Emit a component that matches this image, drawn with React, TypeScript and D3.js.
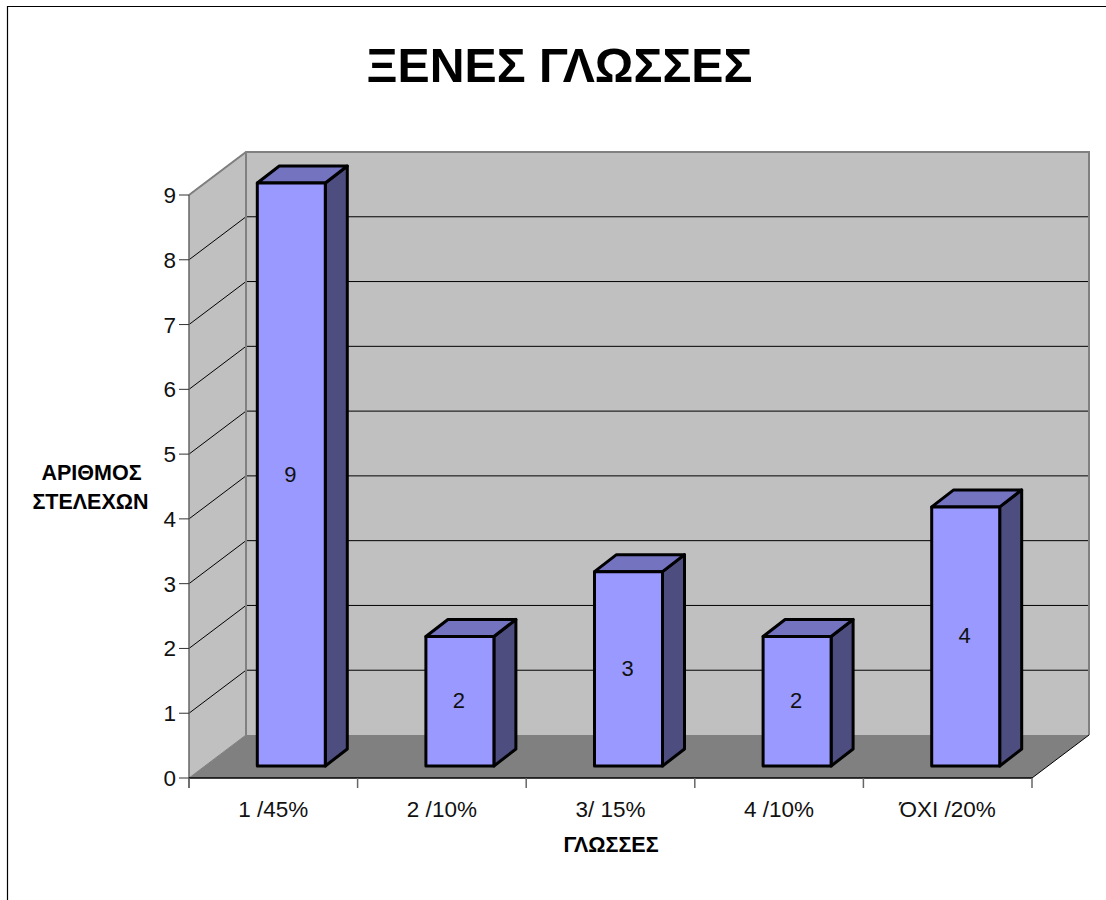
import * as d3 from "d3";

const categories = ["1 /45%", "2 /10%", "3/ 15%", "4 /10%", "ΌΧΙ /20%"];
const counts = [9, 2, 3, 2, 4];
const yTicks = [0, 1, 2, 3, 4, 5, 6, 7, 8, 9];

const FONT = "'Liberation Sans', Arial, sans-serif";
const FRONT_LEFT = 189;
const FRONT_RIGHT = 1032;
const FRONT_BOTTOM = 778;
const FRONT_TOP = 195;
const DEPTH_X = 57;
const DEPTH_Y = 43;
const BAR_WIDTH = 68;
const BAR_DX = 18;
const BAR_DY = 12;
const BAR_DEPTH_X = 22;
const BAR_DEPTH_Y = 17;

const x = d3.scaleBand<string>().domain(categories).range([FRONT_LEFT, FRONT_RIGHT]);
const y = d3.scaleLinear().domain([0, 9]).range([FRONT_BOTTOM, FRONT_TOP]);

const pts = (p: [number, number][]) => p.map((q) => q.join(",")).join(" ");

export default function App() {
  const top = y(9);
  const bottom = y(0);
  const backLeft = FRONT_LEFT + DEPTH_X;
  const backRight = FRONT_RIGHT + DEPTH_X;
  return (
    <svg
      width={1106}
      height={900}
      style={{ position: "absolute", left: 0, top: 0, fontFamily: FONT }}
    >
      <rect width={1106} height={900} fill="#fff" />
      <path d="M7.5,900 V6.5 H1106" fill="none" stroke="#000" strokeWidth={1.2} />

      <text x={559.5} y={82} textAnchor="middle" fontSize={48.2} fontWeight={700} fill="#000">
        ΞΕΝΕΣ ΓΛΩΣΣΕΣ
      </text>

      {/* Walls and floor of the 3D plot box */}
      <polygon
        points={pts([[FRONT_LEFT, bottom], [backLeft, bottom - DEPTH_Y], [backLeft, top - DEPTH_Y], [FRONT_LEFT, top]])}
        fill="#c0c0c0"
      />
      <rect x={backLeft} y={top - DEPTH_Y} width={FRONT_RIGHT - FRONT_LEFT} height={bottom - top} fill="#c0c0c0" />
      <polygon
        points={pts([[FRONT_LEFT, bottom], [FRONT_RIGHT, bottom], [backRight, bottom - DEPTH_Y], [backLeft, bottom - DEPTH_Y]])}
        fill="#808080"
      />

      {yTicks.slice(1).map((t) => (
        <g key={t} stroke="#000" strokeWidth={1}>
          <line x1={FRONT_LEFT} y1={y(t)} x2={backLeft} y2={y(t) - DEPTH_Y} />
          {t < 9 && <line x1={backLeft} y1={y(t) - DEPTH_Y} x2={backRight} y2={y(t) - DEPTH_Y} />}
        </g>
      ))}

      {/* Grey wall outline */}
      <polyline
        points={pts([[FRONT_LEFT, top], [backLeft, top - DEPTH_Y], [backRight, top - DEPTH_Y], [backRight, bottom - DEPTH_Y]])}
        fill="none"
        stroke="#808080"
        strokeWidth={2}
      />
      <line x1={backLeft} y1={top - DEPTH_Y} x2={backLeft} y2={bottom - DEPTH_Y} stroke="#808080" strokeWidth={2} />
      <line x1={FRONT_RIGHT} y1={bottom} x2={backRight} y2={bottom - DEPTH_Y} stroke="#000" strokeWidth={1} />
      <line x1={FRONT_LEFT} y1={bottom} x2={backLeft} y2={bottom - DEPTH_Y} stroke="#808080" strokeWidth={1} />

      {/* Axes */}
      <line x1={FRONT_LEFT} y1={top} x2={FRONT_LEFT} y2={bottom + 10} stroke="#666" strokeWidth={1.5} />
      <line x1={FRONT_LEFT} y1={bottom} x2={FRONT_RIGHT} y2={bottom} stroke="#000" strokeWidth={1.5} />
      {yTicks.map((t) => (
        <g key={t}>
          <line x1={FRONT_LEFT - 10} y1={y(t)} x2={FRONT_LEFT} y2={y(t)} stroke="#333" strokeWidth={1} />
          <text x={FRONT_LEFT - 13} y={y(t) + 8} textAnchor="end" fontSize={22.5} fill="#111">
            {t}
          </text>
        </g>
      ))}
      {[...categories.map((c) => x(c) as number), FRONT_RIGHT].map((px) => (
        <line key={px} x1={px} y1={bottom} x2={px} y2={bottom + 10} stroke="#666" strokeWidth={1.5} />
      ))}
      {categories.map((c) => (
        <text key={c} x={(x(c) as number) + x.bandwidth() / 2} y={817} textAnchor="middle" fontSize={22.5} fill="#111">
          {c}
        </text>
      ))}

      {/* Bars: side and top faces recede from the front face */}
      {categories.map((c, i) => {
        const l = (x(c) as number) + (x.bandwidth() - BAR_WIDTH) / 2 + BAR_DX;
        const r = l + BAR_WIDTH;
        const b = y(0) - BAR_DY;
        const h = y(0) - y(counts[i]);
        const t = b - h;
        return (
          <g key={c} stroke="#000" strokeWidth={3} strokeLinejoin="round">
            <polygon points={pts([[r, t], [r + BAR_DEPTH_X, t - BAR_DEPTH_Y], [r + BAR_DEPTH_X, b - BAR_DEPTH_Y], [r, b]])} fill="#4d4d80" />
            <polygon points={pts([[l, t], [l + BAR_DEPTH_X, t - BAR_DEPTH_Y], [r + BAR_DEPTH_X, t - BAR_DEPTH_Y], [r, t]])} fill="#7373bf" />
            <rect x={l} y={t} width={BAR_WIDTH} height={h} fill="#9999ff" />
            <text x={(l + r) / 2 - 1} y={(t + b) / 2 + 7} textAnchor="middle" fontSize={22} fill="#111" stroke="none">
              {counts[i]}
            </text>
          </g>
        );
      })}

      <text textAnchor="middle" fontSize={21.5} fontWeight={700} fill="#000">
        <tspan x={91.5} y={480}>ΑΡΙΘΜΟΣ</tspan>
        <tspan x={90.5} y={509}>ΣΤΕΛΕΧΩΝ</tspan>
      </text>
      <text x={611} y={852} textAnchor="middle" fontSize={21.5} fontWeight={700} fill="#000">
        ΓΛΩΣΣΕΣ
      </text>
    </svg>
  );
}
